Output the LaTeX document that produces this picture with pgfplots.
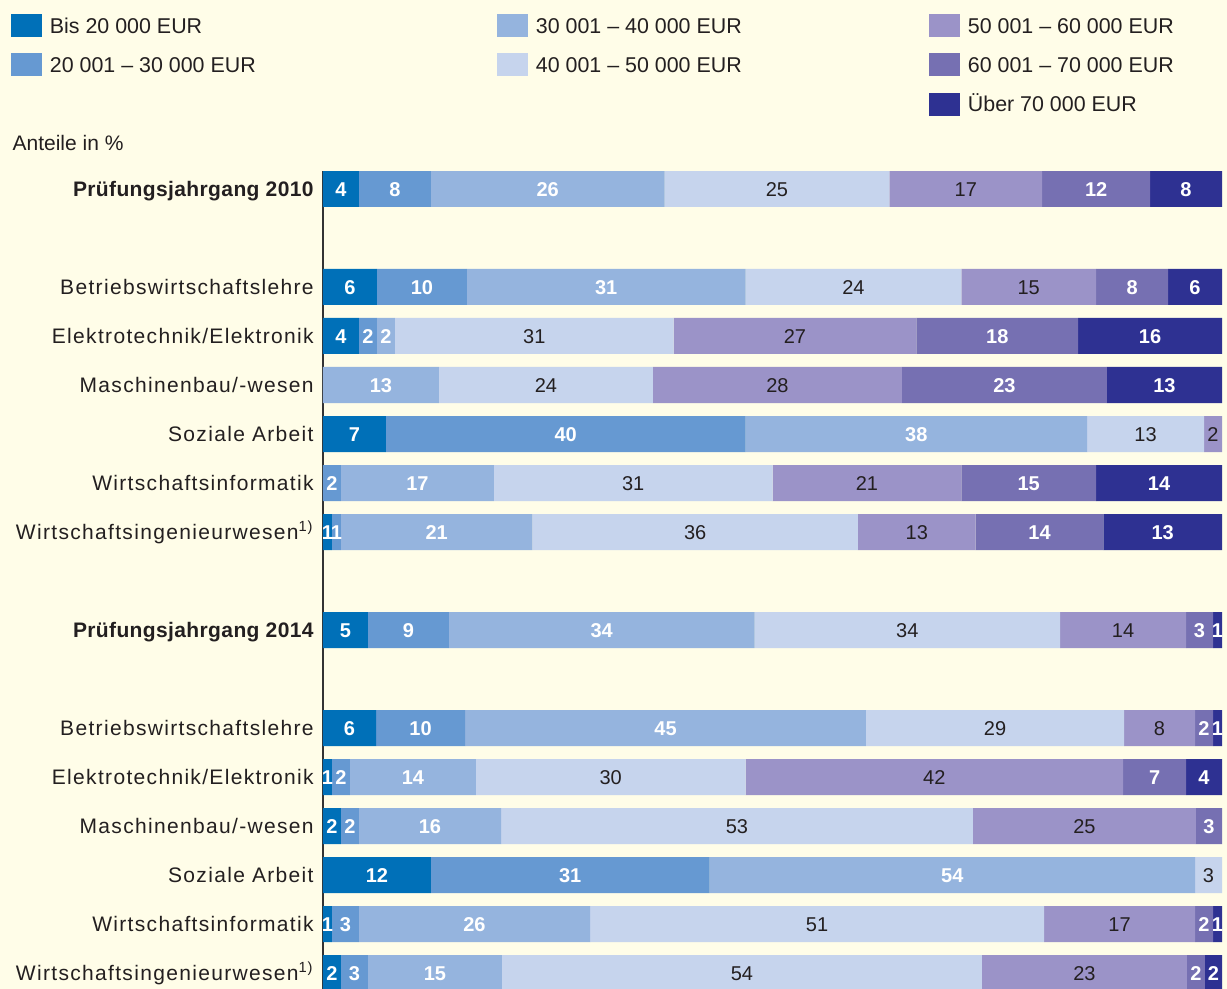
\documentclass[border=0pt]{standalone}
\usepackage{fontspec}
\setmainfont{Liberation Sans}
\newfontfamily\lsfont[LetterSpace=6.3]{Liberation Sans}
\newfontfamily\bsfont[LetterSpace=1.8]{Liberation Sans}
\usepackage{pgfplots}
\usepackage{pgfplotstable}
\pgfplotsset{compat=1.18}

\definecolor{c1}{RGB}{0,112,184}
\definecolor{c2}{RGB}{102,153,210}
\definecolor{c3}{RGB}{149,180,222}
\definecolor{c4}{RGB}{198,212,237}
\definecolor{c5}{RGB}{155,147,200}
\definecolor{c6}{RGB}{118,112,178}
\definecolor{c7}{RGB}{46,49,146}
\definecolor{bg}{RGB}{255,253,232}
\definecolor{txt}{RGB}{35,31,32}

% y = -row ; v = bar widths (%), l = printed labels
\pgfplotstableread{
y   v1  v2  v3   v4   v5   v6   v7   l1 l2 l3 l4 l5 l6 l7
0   4   8   26   25   17   12   8    4  8  26 25 17 12 8
-2  6   10  31   24   15   8    6    6  10 31 24 15 8  6
-3  4   2   2    31   27   18   16   4  2  2  31 27 18 16
-4  0   0   12.9 23.8 27.7 22.8 12.8 {} {} 13 24 28 23 13
-5  7   40  38   13   2    0    0    7  40 38 13 2  {} {}
-6  0   2   17   31   21   15   14   {} 2  17 31 21 15 14
-7  1.0 1.0 21.3 36.2 13.1 14.2 13.2 1  1  21 36 13 14 13
-9  5   9   34   34   14   3    1    5  9  34 34 14 3  1
-11 5.9 9.9 44.6 28.7 7.9  2.0  1.0  6  10 45 29 8  2  1
-12 1   2   14   30   42   7    4    1  2  14 30 42 7  4
-13 2.0 2.0 15.8 52.5 24.8 2.9  0    2  2  16 53 25 3  {}
-14 12  31  54   3    0    0    0    12 31 54 3  {} {} {}
-15 1.0 3.0 25.7 50.5 16.8 2.0  1.0  1  3  26 51 17 2  1
-16 2.0 3.0 14.9 53.4 22.8 2.0  1.9  2  3  15 54 23 2  2
}\data

\pgfplotsset{
  swatch/.style={legend image code/.code={\fill[fill=#1, draw=none] (0pt,-5.7pt) rectangle (15.5pt,5.7pt); \path[draw=none, fill=none] (19.5pt,0pt);}},
  whitelab/.style={every node near coord/.append style={font=\fontsize{10}{11}\selectfont\bfseries, text=white}},
  darklab/.style={every node near coord/.append style={font=\fontsize{10}{11}\selectfont, text=txt}},
}

\begin{document}
\begin{tikzpicture}
\useasboundingbox (0pt,0pt) rectangle (613.5pt,-494.5pt);
\fill[bg] (0pt,0pt) rectangle (613.5pt,-494.5pt);
\begin{axis}[
  at={(161.5pt,-494.5pt)}, anchor=south west,
  x=4.495pt, y=24.5pt,
  xmin=0, xmax=100, ymin=-16.3265, ymax=0.3673,
  xbar stacked, bar width=18pt,
  axis x line=none,
  axis y line*=left,
  axis line style={draw=black!80, line width=0.6pt},
  major tick length=0pt,
  ytick style={draw=none},
  ytick={0,-2,-3,-4,-5,-6,-7,-9,-11,-12,-13,-14,-15,-16},
  yticklabels={{\bsfont\bfseries Prüfungsjahrgang 2010},Betriebswirtschaftslehre,Elektrotechnik/Elektronik,Maschinenbau/-wesen,Soziale Arbeit,Wirtschaftsinformatik,{Wirtschaftsingenieurwesen\textsuperscript{1)}},{\bsfont\bfseries Prüfungsjahrgang 2014},Betriebswirtschaftslehre,Elektrotechnik/Elektronik,Maschinenbau/-wesen,Soziale Arbeit,Wirtschaftsinformatik,{Wirtschaftsingenieurwesen\textsuperscript{1)}}},
  yticklabel style={font=\lsfont\fontsize{10.5}{12.6}\selectfont, text=txt, anchor=east, inner sep=0pt, xshift=-4.5pt, text height=7.6pt, text depth=0pt},
  point meta=explicit symbolic,
  nodes near coords={\makebox[0pt]{\pgfplotspointmeta}},
  every node near coord/.append style={inner sep=0pt, yshift=-0.4pt},
  legend columns=3,
  legend cell align=left,
  legend style={at={(-0.3471,1.1919)}, anchor=north west, draw=none, fill=none,
    inner sep=0pt, outer sep=0pt, column sep=0pt, row sep=8.3pt,
    font=\fontsize{10.7}{12.8}\selectfont, text=txt,
    nodes={inner sep=0pt, outer sep=0pt, text height=7.7pt, text depth=0pt}},
]
\addplot[fill=c1, draw=none, forget plot, whitelab] table[x=v1, y=y, meta=l1] {\data};
\addplot[fill=c2, draw=none, forget plot, whitelab] table[x=v2, y=y, meta=l2] {\data};
\addplot[fill=c3, draw=none, forget plot, whitelab] table[x=v3, y=y, meta=l3] {\data};
\addplot[fill=c4, draw=none, forget plot, darklab] table[x=v4, y=y, meta=l4] {\data};
\addplot[fill=c5, draw=none, forget plot, darklab] table[x=v5, y=y, meta=l5] {\data};
\addplot[fill=c6, draw=none, forget plot, whitelab] table[x=v6, y=y, meta=l6] {\data};
\addplot[fill=c7, draw=none, forget plot, whitelab] table[x=v7, y=y, meta=l7] {\data};

\addlegendimage{swatch=c1}\addlegendentry{\makebox[223.5pt][l]{Bis 20~000 EUR}}
\addlegendimage{swatch=c3}\addlegendentry{\makebox[196.5pt][l]{30~001 -- 40~000 EUR}}
\addlegendimage{swatch=c5}\addlegendentry{50~001 -- 60~000 EUR}
\addlegendimage{swatch=c2}\addlegendentry{\makebox[223.5pt][l]{20~001 -- 30~000 EUR}}
\addlegendimage{swatch=c4}\addlegendentry{\makebox[196.5pt][l]{40~001 -- 50~000 EUR}}
\addlegendimage{swatch=c6}\addlegendentry{60~001 -- 70~000 EUR}
\addlegendimage{empty legend}\addlegendentry{\makebox[223.5pt][l]{}}
\addlegendimage{empty legend}\addlegendentry{\makebox[196.5pt][l]{}}
\addlegendimage{swatch=c7}\addlegendentry{Über 70~000 EUR}
\end{axis}
\node[anchor=west, inner sep=0pt, font=\fontsize{10.5}{12.6}\selectfont, text=txt] at (6.1pt,-71.5pt) {Anteile in \%};
\end{tikzpicture}
\end{document}
